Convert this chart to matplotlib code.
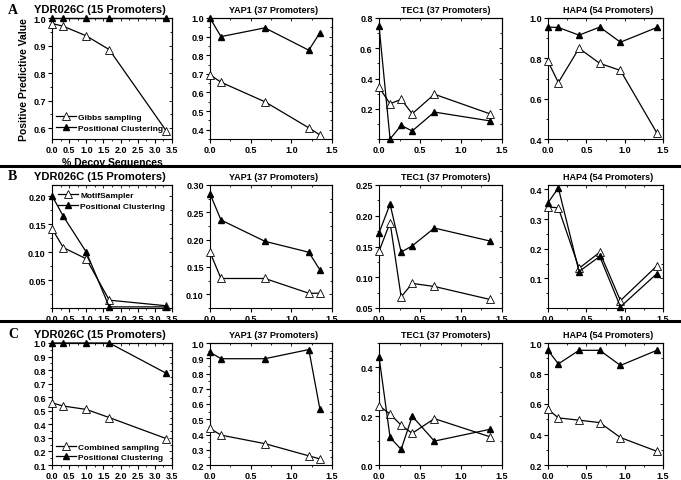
import numpy as np
import matplotlib
matplotlib.use('Agg')
import matplotlib.pyplot as plt
from matplotlib.lines import Line2D
from matplotlib.ticker import AutoMinorLocator, FormatStrFormatter

plt.rcParams['font.family'] = ['Liberation Sans', 'DejaVu Sans']
plt.rcParams['font.weight'] = 'bold'

# x values (% decoy sequences)
x_ydr = [0.0, 0.33, 1.0, 1.67, 3.33]
x_yap = [0.0, 0.135, 0.675, 1.215, 1.35]
x_tec = [0.0, 0.135, 0.27, 0.405, 0.675, 1.35]
x_hap = [0.0, 0.135, 0.405, 0.675, 0.945, 1.42]

titles = ['YDR026C (15 Promoters)', 'YAP1 (37 Promoters)',
          'TEC1 (37 Promoters)', 'HAP4 (54 Promoters)']
row_letters = ['A', 'B', 'C']
other_names = ['Gibbs sampling', 'MotifSampler', 'Combined sampling']
pc_name = 'Positional Clustering'

# row A: Gibbs sampling vs positional clustering
a_other = [[0.98, 0.97, 0.935, 0.885, 0.59],
           [0.695, 0.655, 0.55, 0.41, 0.372],
           [0.342, 0.233, 0.262, 0.167, 0.296, 0.167],
           [0.785, 0.68, 0.85, 0.775, 0.74, 0.43]]
a_pc = [[1.0, 1.0, 1.0, 1.0, 1.0],
        [1.0, 0.90, 0.947, 0.827, 0.92],
        [0.75, 0.0, 0.09, 0.053, 0.178, 0.12],
        [0.955, 0.953, 0.915, 0.955, 0.88, 0.953]]
# row B: MotifSampler vs positional clustering
b_other = [[0.142, 0.108, 0.088, 0.014, 0.004],
           [0.177, 0.129, 0.129, 0.102, 0.102],
           [0.142, 0.189, 0.068, 0.09, 0.085, 0.064],
           [0.341, 0.338, 0.134, 0.188, 0.025, 0.142]]
b_pc = [[0.201, 0.164, 0.10, 0.002, 0.002],
        [0.284, 0.236, 0.197, 0.177, 0.145],
        [0.172, 0.219, 0.141, 0.151, 0.18, 0.159],
        [0.355, 0.405, 0.123, 0.174, 0.004, 0.116]]
# row C: Combined sampling vs positional clustering
c_other = [[0.558, 0.535, 0.51, 0.45, 0.295],
           [0.44, 0.396, 0.34, 0.26, 0.24],
           [0.243, 0.209, 0.163, 0.13, 0.19, 0.116],
           [0.565, 0.509, 0.494, 0.478, 0.38, 0.29]]
c_pc = [[1.0, 1.0, 1.0, 1.0, 0.777],
        [0.94, 0.897, 0.897, 0.957, 0.57],
        [0.444, 0.113, 0.064, 0.2, 0.098, 0.146],
        [0.952, 0.863, 0.952, 0.952, 0.853, 0.952]]

xs = [x_ydr, x_yap, x_tec, x_hap]
others = [a_other, b_other, c_other]
pcs = [a_pc, b_pc, c_pc]

ylims = [[(0.56, 1.0), (0.35, 1.0), (0.0, 0.8), (0.4, 1.0)],
         [(0.0, 0.22), (0.075, 0.30), (0.05, 0.25), (0.0, 0.415)],
         [(0.1, 1.0), (0.2, 1.0), (0.0, 0.5), (0.2, 1.0)]]
yticks = [[[0.6, 0.7, 0.8, 0.9, 1.0], [0.4, 0.5, 0.6, 0.7, 0.8, 0.9, 1.0],
           [0.2, 0.4, 0.6, 0.8], [0.4, 0.6, 0.8, 1.0]],
          [[0.05, 0.10, 0.15, 0.20], [0.10, 0.15, 0.20, 0.25, 0.30],
           [0.05, 0.10, 0.15, 0.20, 0.25], [0.1, 0.2, 0.3, 0.4]],
          [[0.1, 0.2, 0.3, 0.4, 0.5, 0.6, 0.7, 0.8, 0.9, 1.0],
           [0.2, 0.3, 0.4, 0.5, 0.6, 0.7, 0.8, 0.9, 1.0],
           [0.0, 0.2, 0.4], [0.2, 0.4, 0.6, 0.8, 1.0]]]
yfmt = [['%.1f'] * 4, ['%.2f', '%.2f', '%.2f', '%.1f'], ['%.1f'] * 4]
xlims = [(0, 3.5), (0, 1.5), (0, 1.5), (0, 1.5)]
xticks = [[0, 0.5, 1.0, 1.5, 2.0, 2.5, 3.0, 3.5], [0, 0.5, 1.0, 1.5],
          [0, 0.5, 1.0, 1.5], [0, 0.5, 1.0, 1.5]]

W, H = 681.0, 481.0
fig = plt.figure(figsize=(6.81, 4.81), dpi=100)

col_l = [52, 210, 379, 548]
col_r = [172, 332, 502, 663]
row_t = [19, 186, 344]
row_b = [140, 309, 466]
title_x = [0.40, 0.52, 0.54, 0.52]
title_fs = [8, 6.5, 6.5, 6.5]
legend_loc = ['lower left', 'upper left', 'lower left']
legend_anchor = [(0.03, 0.06), (0.05, 0.95), (0.03, 0.03)]

for r in range(3):
    for c in range(4):
        ax = fig.add_axes([col_l[c] / W, 1 - row_b[r] / H,
                           (col_r[c] - col_l[c]) / W, (row_b[r] - row_t[r]) / H])
        ax.plot(xs[c], others[r][c], color='black', lw=0.9, marker='^',
                ms=6, mfc='white', mec='black', mew=0.6, clip_on=False,
                label=other_names[r], zorder=3)
        ax.plot(xs[c], pcs[r][c], color='black', lw=0.9, marker='^',
                ms=5, mfc='black', mec='black', clip_on=False,
                label=pc_name, zorder=4)
        ax.set_xlim(*xlims[c])
        ax.set_ylim(*ylims[r][c])
        ax.set_xticks(xticks[c])
        ax.set_yticks(yticks[r][c])
        ax.xaxis.set_major_formatter(FormatStrFormatter('%.1f'))
        ax.yaxis.set_major_formatter(FormatStrFormatter(yfmt[r][c]))
        ax.xaxis.set_minor_locator(AutoMinorLocator(2))
        ax.yaxis.set_minor_locator(AutoMinorLocator(2))
        ax.tick_params(which='major', direction='out', length=3, width=0.8,
                       labelsize=6.5, pad=1.5)
        ax.tick_params(which='minor', direction='out', length=1.5, width=0.6)
        for s in ax.spines.values():
            s.set_linewidth(0.8)
        secx = ax.secondary_xaxis('top')
        secx.set_xticks(xticks[c])
        secx.xaxis.set_minor_locator(AutoMinorLocator(2))
        secx.tick_params(which='both', direction='in', labeltop=False, width=0.6)
        secx.tick_params(which='major', length=2.5)
        secx.tick_params(which='minor', length=1.5)
        secy = ax.secondary_yaxis('right')
        secy.set_yticks(yticks[r][c])
        secy.yaxis.set_minor_locator(AutoMinorLocator(2))
        secy.tick_params(which='both', direction='in', labelright=False, width=0.6)
        secy.tick_params(which='major', length=2.5)
        secy.tick_params(which='minor', length=1.5)
        ax.text(title_x[c], 1.03, titles[c], transform=ax.transAxes,
                ha='center', va='bottom', fontsize=title_fs[c],
                fontweight='bold')
        if c == 0:
            ax.legend(loc=legend_loc[r], bbox_to_anchor=legend_anchor[r],
                      frameon=False, fontsize=6, handlelength=2.4,
                      handletextpad=0.3, labelspacing=0.35, borderpad=0,
                      borderaxespad=0, numpoints=1)
        if r == 0 and c == 0:
            ax.set_xlabel('% Decoy Sequences', fontsize=7.5, fontweight='bold',
                          labelpad=2)
            ax.set_ylabel('Positive Predictive Value', fontsize=7.5,
                          fontweight='bold', labelpad=3)

# panel letters
letter_y = [11, 177, 334]
for r in range(3):
    fig.text(8 / W, 1 - letter_y[r] / H, row_letters[r], fontsize=10,
             fontweight='bold', family=['Liberation Serif', 'DejaVu Serif'],
             ha='left', va='center')

# separators between rows
for y in [167, 322]:
    fig.add_artist(Line2D([0, 1], [1 - y / H, 1 - y / H], color='black',
                          lw=2.2, transform=fig.transFigure))

fig.savefig('out.png', dpi=100)
